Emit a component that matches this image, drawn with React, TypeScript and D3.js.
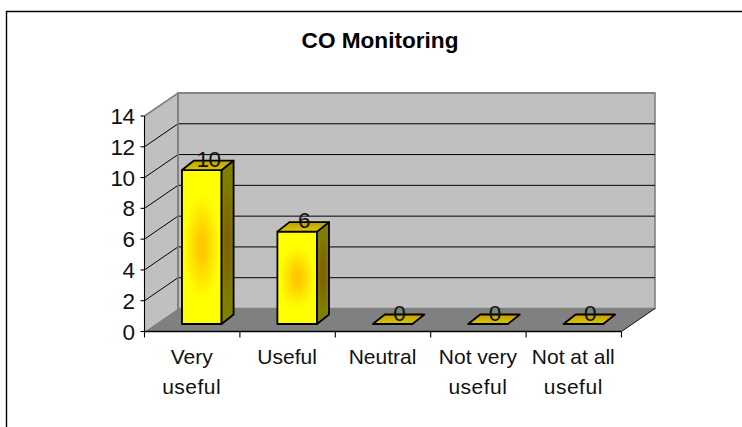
import React from "react";
import * as d3 from "d3";

const categories = [["Very", "useful"], ["Useful"], ["Neutral"], ["Not very", "useful"], ["Not at all", "useful"]];
const values = [10, 6, 0, 0, 0];
const yTicks = [0, 2, 4, 6, 8, 10, 12, 14];
const title = "CO Monitoring";
const FONT = "Liberation Sans, Arial, sans-serif";

const W = 742, H = 427;
const DX = 33.5, DY = -23;
const x = d3.scaleLinear().domain([0, 5]).range([144.5, 621.5]);
const y = d3.scaleLinear().domain([0, 14]).range([331.5, 116]);
const pts = (p: number[][]) => p.map((a) => a.join(",")).join(" ");

export default function App() {
  const step = x(1) - x(0);
  const barW = step * 0.415;
  const bdx = 12, bdy = -9.5, oy = -7.5;
  return (
    <svg width={W} height={H} style={{ position: "absolute", left: 0, top: 0, background: "#fff" }} fontFamily={FONT}>
      <defs>
        <radialGradient id="face" cx="0.5" cy="0.5" r="0.5" gradientTransform="translate(0.5 0.5) scale(1.05 0.8) translate(-0.5 -0.5)">
          <stop offset="0" stopColor="#ffc800" />
          <stop offset="0.2" stopColor="#ffcc00" />
          <stop offset="0.85" stopColor="#ffff00" />
          <stop offset="1" stopColor="#ffff00" />
        </radialGradient>
        <linearGradient id="top" x1="0" y1="0" x2="0" y2="1">
          <stop offset="0" stopColor="#bf9f00" />
          <stop offset="1" stopColor="#dcc800" />
        </linearGradient>
        <radialGradient id="side" cx="0.5" cy="0.5" r="0.5" gradientTransform="translate(0.5 0.5) scale(1.05 0.8) translate(-0.5 -0.5)">
          <stop offset="0" stopColor="#806000" />
          <stop offset="0.3" stopColor="#806400" />
          <stop offset="1" stopColor="#808000" />
        </radialGradient>
      </defs>
      <path d="M6.5 427V11.5H742" fill="none" stroke="#000" strokeWidth={1.4} />
      <text x={380} y={48} textAnchor="middle" fontSize={22.6} fontWeight="bold">{title}</text>

      <polygon points={pts([[x(0), y(0)], [x(0) + DX, y(0) + DY], [x(0) + DX, y(14) + DY], [x(0), y(14)]])} fill="#c0c0c0" />
      <polygon points={pts([[x(0) + DX, y(0) + DY], [x(5) + DX, y(0) + DY], [x(5) + DX, y(14) + DY], [x(0) + DX, y(14) + DY]])} fill="#c0c0c0" stroke="#808080" strokeWidth={1.6} />
      <polygon points={pts([[x(0), y(0)], [x(5), y(0)], [x(5) + DX, y(0) + DY], [x(0) + DX, y(0) + DY]])} fill="#808080" />
      {yTicks.slice(1, -1).map((t) => (
        <polyline key={t} points={pts([[x(0), y(t)], [x(0) + DX, y(t) + DY], [x(5) + DX, y(t) + DY]])} fill="none" stroke="#000" strokeWidth={1} />
      ))}
      <polyline points={pts([[x(0), y(14)], [x(0) + DX, y(14) + DY], [x(5) + DX, y(14) + DY]])} fill="none" stroke="#808080" strokeWidth={1.6} />
      <line x1={x(0) + DX} x2={x(0) + DX} y1={y(0) + DY} y2={y(14) + DY} stroke="#808080" strokeWidth={1.6} />

      <line x1={x(0)} x2={x(0)} y1={y(14)} y2={y(0)} stroke="#000" strokeWidth={1.1} />
      <line x1={x(0)} x2={x(5)} y1={y(0)} y2={y(0)} stroke="#000" strokeWidth={1.4} />
      <line x1={x(5)} x2={x(5) + DX} y1={y(0)} y2={y(0) + DY} stroke="#000" strokeWidth={0.9} />
      {yTicks.map((t) => (
        <g key={t}>
          <line x1={x(0) - 4} x2={x(0)} y1={y(t)} y2={y(t)} stroke="#000" strokeWidth={1.1} />
          <text x={134.5} y={y(t) + 8} textAnchor="end" fontSize={22.5} letterSpacing={-0.5} fill="#111">{t}</text>
        </g>
      ))}
      {categories.map((c, i) => (
        <g key={i}>
          <line x1={x(i)} x2={x(i)} y1={y(0)} y2={y(0) + 6} stroke="#000" strokeWidth={1.1} />
          {c.map((l, j) => (
            <text key={j} x={x(i) + step / 2 - 0.5} y={364 + j * 30} textAnchor="middle" fontSize={21} letterSpacing={l === "useful" ? 0.5 : 0} fill="#111">{l}</text>
          ))}
        </g>
      ))}
      <line x1={x(5)} x2={x(5)} y1={y(0)} y2={y(0) + 6} stroke="#000" strokeWidth={1.1} />

      {values.map((v, i) => {
        const x0 = x(i) + 37.5, x1 = x0 + barW;
        const yb = y(0) + oy, yt = y(v) + oy;
        return (
          <g key={i} stroke="#000" strokeWidth={1.8} strokeLinejoin="round">
            {v > 0 && <polygon points={pts([[x0, yb], [x1, yb], [x1, yt], [x0, yt]])} fill="url(#face)" />}
            {v > 0 && <polygon points={pts([[x1, yb], [x1 + bdx, yb + bdy], [x1 + bdx, yt + bdy], [x1, yt]])} fill="url(#side)" />}
            <polygon points={pts([[x0, yt], [x1, yt], [x1 + bdx, yt + bdy], [x0 + bdx, yt + bdy]])} fill="url(#top)" />
          </g>
        );
      })}
      {values.map((v, i) => (
        <text key={i} x={x(i) + 64} y={y(v) - 11} textAnchor="middle" fontSize={22.5} letterSpacing={-0.5} fill="#111">{v}</text>
      ))}
    </svg>
  );
}
